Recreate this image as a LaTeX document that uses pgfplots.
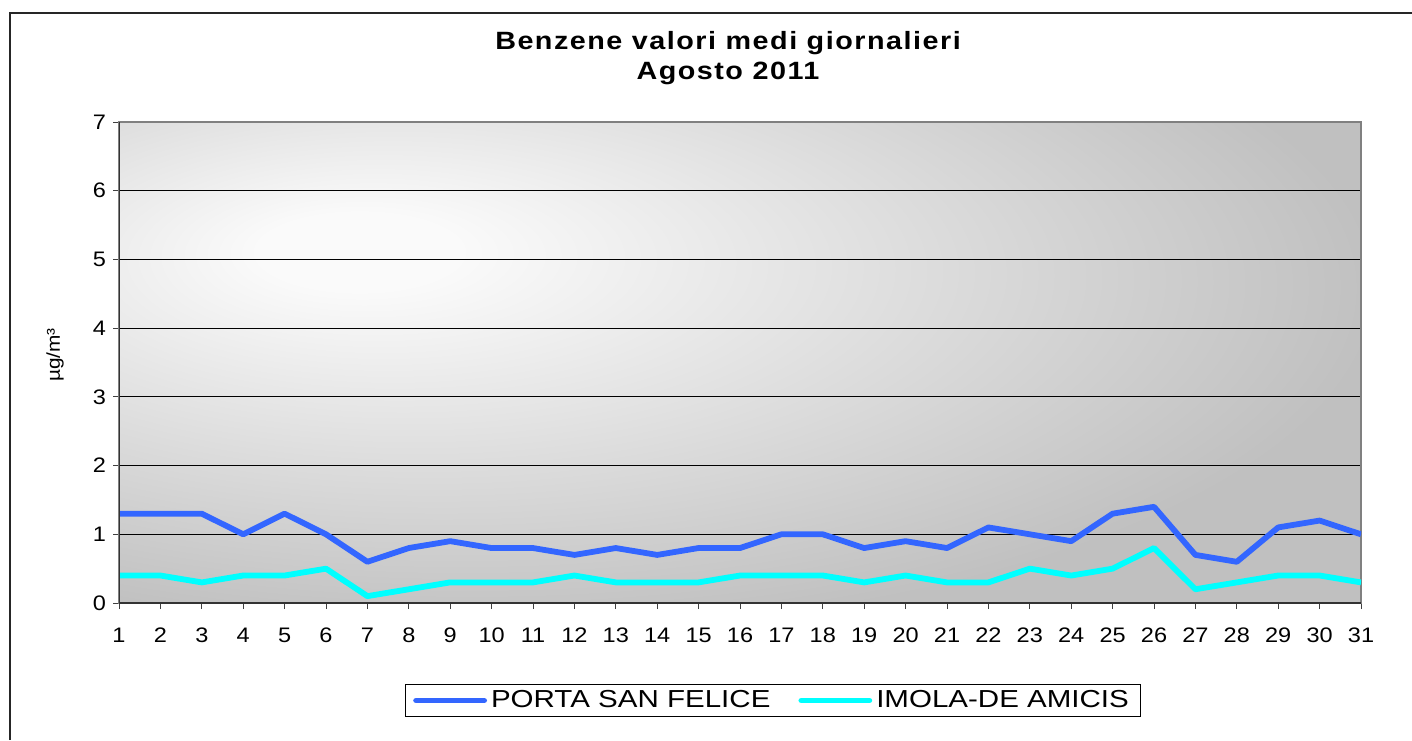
\documentclass[border=0pt]{standalone}
\usepackage{pgfplots}
\usepackage{pgfplotstable}
\pgfplotsset{compat=1.18}
\usepackage{fontspec}
\setmainfont{Liberation Sans}[FakeStretch=1.12]
\newfontfamily\titlefont{Liberation Sans}[FakeStretch=1.15,LetterSpace=6]
\newfontfamily\legfont{Liberation Sans}[FakeStretch=1.2]

\definecolor{psf}{RGB}{51,102,255}
\definecolor{ima}{RGB}{0,255,255}
\definecolor{bgA}{RGB}{250,250,250}
\definecolor{bgB}{RGB}{192,192,192}
\definecolor{framegray}{RGB}{128,128,128}

% light spot up left, grey towards the bottom and the right
\pgfdeclareradialshading{excelbg}{\pgfpoint{-16bp}{12bp}}{%
  color(0bp)=(bgA); color(4bp)=(bgA); color(36bp)=(bgB); color(100bp)=(bgB)}

\pgfplotstableread{
day psf ima
1  1.3 0.4
2  1.3 0.4
3  1.3 0.3
4  1.0 0.4
5  1.3 0.4
6  1.0 0.5
7  0.6 0.1
8  0.8 0.2
9  0.9 0.3
10 0.8 0.3
11 0.8 0.3
12 0.7 0.4
13 0.8 0.3
14 0.7 0.3
15 0.8 0.3
16 0.8 0.4
17 1.0 0.4
18 1.0 0.4
19 0.8 0.3
20 0.9 0.4
21 0.8 0.3
22 1.1 0.3
23 1.0 0.5
24 0.9 0.4
25 1.3 0.5
26 1.4 0.8
27 0.7 0.2
28 0.6 0.3
29 1.1 0.4
30 1.2 0.4
31 1.0 0.3
}\data

\begin{document}
\begin{tikzpicture}
\path[use as bounding box] (0,0) rectangle (706pt,-370pt);
\fill[white] (0,0) rectangle (706pt,-370pt);
\draw[line width=1pt, black!85] (5pt,-370pt) -- (5pt,-6.5pt) -- (706pt,-6.5pt);

\node[font=\titlefont\bfseries\fontsize{12.5}{15}\selectfont, align=center]
  at (364pt,-29pt) {Benzene valori medi giornalieri\\Agosto 2011};

\node[rotate=90, font=\fontsize{9.3}{11}\selectfont] at (27.5pt,-177.5pt) {µg/m³};

\begin{axis}[
  at={(59.5pt,-301.5pt)}, anchor=south west,
  scale only axis, width=621pt, height=240.5pt,
  xmin=1, xmax=31, ymin=0, ymax=7,
  xtick={1,...,31}, ytick={0,...,7},
  tick pos=left, tick align=outside,
  major tick length=3pt,
  tick style={black!75, line width=0.5pt},
  ymajorgrids, grid style={black, line width=0.6pt},
  axis line style={framegray, line width=1pt},
  axis background/.style={shade, shading=excelbg},
  ticklabel style={font=\fontsize{10.5}{12}\selectfont},
  xticklabel style={yshift=-6pt},
  /pgf/number format/assume math mode=true,
  legend columns=2,
  legend cell align=left,
  legend style={at={(0.5266,-0.2027)}, anchor=center, draw=black, line width=0.5pt,
    font=\legfont\fontsize{12.3}{14}\selectfont, inner xsep=4pt, inner ysep=1pt,
    /tikz/every even column/.append style={column sep=12pt}},
  legend image code/.code={\draw[#1, line cap=round] (0pt,0pt) -- (34pt,0pt);},
]
\addplot[psf, line width=2.9pt, line join=round] table[x=day, y=psf] {\data};
\addlegendentry{PORTA SAN FELICE}
\addplot[ima, line width=2.9pt, line join=round] table[x=day, y=ima] {\data};
\addlegendentry{IMOLA-DE AMICIS}
\draw[black!80, line width=1pt] (rel axis cs:0,1) -- (rel axis cs:0,0) -- (rel axis cs:1,0);
\end{axis}
\end{tikzpicture}
\end{document}
